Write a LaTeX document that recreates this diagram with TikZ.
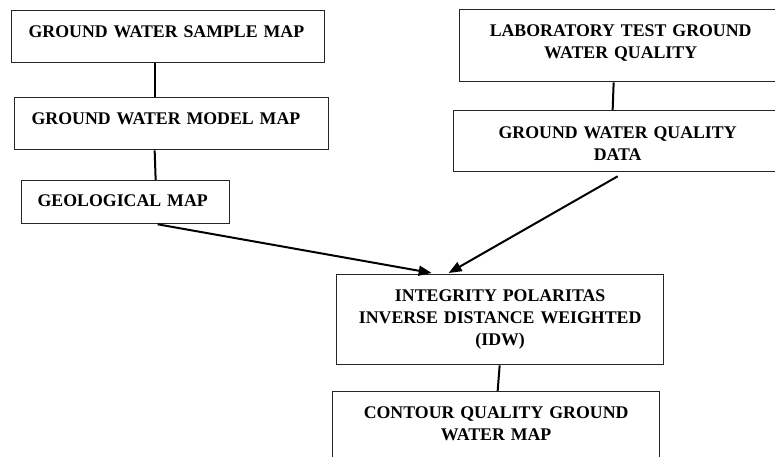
\documentclass[tikz,border=0pt]{standalone}
\usepackage{fontspec}
\setmainfont{Liberation Serif}
\usetikzlibrary{arrows.meta}

\begin{document}
\begin{tikzpicture}[x=1pt, y=-1pt,
   mapbox/.style={draw=black!85, line width=1.3pt, anchor=north west, inner ysep=0pt,
     font=\bfseries\fontsize{17.8}{22}\selectfont},
   leftbox/.style={mapbox, inner xsep=17pt, align=left},
   midbox/.style={mapbox, inner xsep=8pt, align=center},
   link/.style={line width=2pt},
   flow/.style={line width=2pt, -{Triangle[length=13pt,width=10pt]}}]
   \useasboundingbox (0,0) rectangle (775,456);
   \clip (0,0) rectangle (775,456);
   % left column
   \node[leftbox, text width=279pt, text height=26.5pt, text depth=25.5pt] (sample) at (11,10) {GROUND WATER SAMPLE MAP};
   \node[leftbox, text width=280pt, text height=27pt, text depth=25pt] (model) at (14,97) {GROUND WATER MODEL MAP};
   \node[leftbox, inner xsep=16pt, text width=176pt, text height=26pt, text depth=17pt] (geo) at (21,180) {GEOLOGICAL MAP};
   % right column
   \node[midbox, text width=306pt, text height=27pt, text depth=45pt] (lab) at (459,9) {LABORATORY TEST GROUND\\WATER QUALITY};
   \node[midbox, text width=312pt, text height=28pt, text depth=33pt] (qdata) at (453,110) {GROUND WATER QUALITY\\DATA};
   % bottom
   \node[midbox, text width=311pt, text height=27pt, text depth=63pt] (idw) at (336,274) {INTEGRITY POLARITAS\\INVERSE DISTANCE WEIGHTED\\(IDW)};
   \node[midbox, text width=311pt, text height=26.5pt, text depth=52.5pt] (contour) at (332,391) {CONTOUR QUALITY GROUND\\WATER MAP};
   % connectors
   \draw[link] ([xshift=-13.5pt]sample.south) -- ([xshift=-17pt]model.north);
   \draw[link] ([xshift=-17pt]model.south) -- ([xshift=30pt]geo.north);
   \draw[link] ([xshift=-7pt]lab.south) -- ([xshift=-5pt]qdata.north);
   \draw[link] ([xshift=-0.5pt]idw.south) -- ([xshift=1.5pt]contour.north);
   \draw[flow] ([xshift=32pt]geo.south) -- ([xshift=-68.5pt,yshift=1pt]idw.north);
   \draw[flow] ([yshift=-4pt]qdata.south) -- ([xshift=-51.5pt,yshift=1pt]idw.north);
\end{tikzpicture}
\end{document}
